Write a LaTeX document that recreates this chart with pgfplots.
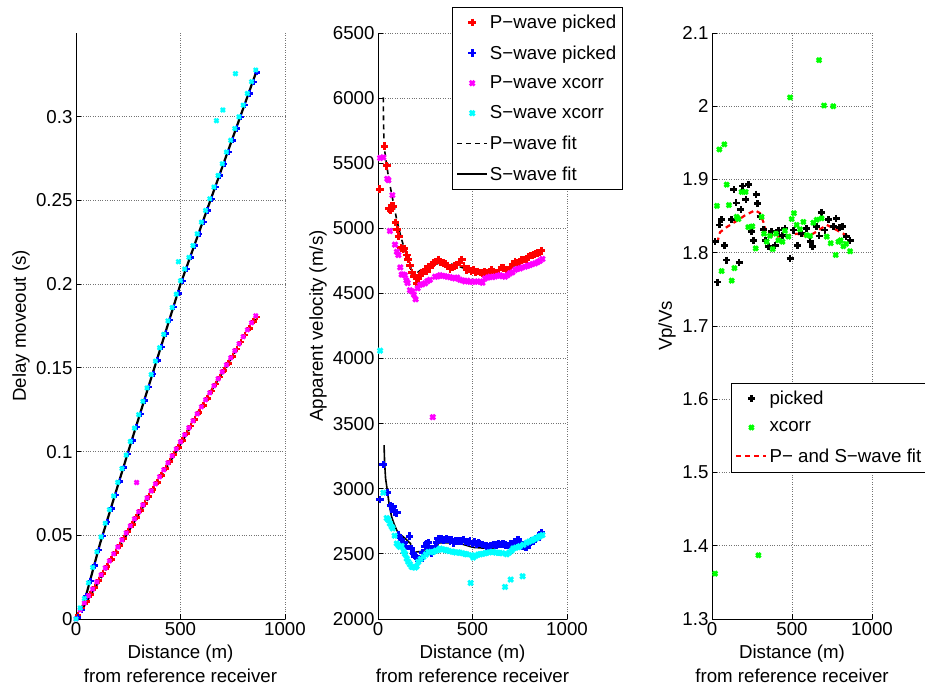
\documentclass[border=0pt]{standalone}
\usepackage{pgfplots}
\pgfplotsset{compat=1.18}
\usepackage{fontspec}
\setmainfont{Liberation Sans}
\definecolor{mred}{rgb}{1,0,0}
\definecolor{mblue}{rgb}{0,0,1}
\definecolor{mmag}{rgb}{1,0,1}
\definecolor{mcyan}{rgb}{0,1,1}
\definecolor{mgreen}{rgb}{0,1,0}
\newcommand{\fs}{\fontsize{18.7}{24}\selectfont}
\pgfplotsset{
  panel/.style={
    scale only axis, height=586pt,
    xmin=0, xmax=1000, xtick={0,500,1000},
    axis x line*=bottom, axis y line*=left,
    axis line style={-, black, line width=0.8pt},
    grid=major, major grid style={dotted, black!55, line width=0.8pt},
    tick align=inside, major tick length=5pt, tick style={black, line width=0.8pt},
    tick label style={font=\fs},
    label style={font=\fs},
    xlabel={Distance (m)\\from reference receiver},
    xlabel style={align=center, at={(axis description cs:0.5,0)}, anchor=north, yshift=-26pt, inner sep=0pt},
    ylabel style={anchor=center, inner sep=0pt},
    /pgf/number format/assume math mode=true,
    /pgf/number format/set thousands separator={},
    scaled ticks=false,
    clip=false,
    legend cell align=left,
    legend image code/.code={\draw[mark repeat=2,mark phase=2,##1] plot coordinates {(0pt,0pt)(15pt,0pt)(30pt,0pt)};},
    legend style={font=\fs, draw=black, line width=0.6pt, fill=white, anchor=north west, row sep=11.5pt, inner xsep=4pt, inner ysep=6pt},
  },
  pk/.style={only marks, mark=+, mark size=3.8pt, mark options={solid, line width=2.8pt}},
  xc/.style={only marks, mark=x, mark size=3.3pt, mark options={solid, line width=2.8pt}},
  pks/.style={only marks, mark=+, mark size=3.1pt, mark options={solid, line width=2.4pt}},
  xcs/.style={only marks, mark=x, mark size=2.8pt, mark options={solid, line width=2.4pt}},
}
\begin{document}
\begin{tikzpicture}
\path[use as bounding box] (0,0) rectangle (925pt,688pt);
% ---------------- Left panel ----------------
\begin{axis}[panel, at={(76pt,69pt)}, anchor=south west, width=209pt,
  ymin=0, ymax=0.35, ytick={0,0.05,0.1,0.15,0.2,0.25,0.3},
  yticklabel style={/pgf/number format/fixed, /pgf/number format/precision=2},
  ylabel={Delay moveout (s)}, ylabel style={at={(axis description cs:-0.263,0.5)}}]
\addplot[pks, mred] coordinates {(10,0.0021)(30,0.0063)(50,0.0105)(70,0.0146)(90,0.0188)(110,0.0230)(130,0.0272)(150,0.0314)(170,0.0356)(190,0.0397)(210,0.0439)(230,0.0481)(250,0.0523)(270,0.0565)(290,0.0607)(310,0.0649)(330,0.0690)(350,0.0732)(370,0.0774)(390,0.0816)(410,0.0858)(430,0.0900)(450,0.0941)(470,0.0983)(490,0.1025)(510,0.1067)(530,0.1109)(550,0.1151)(570,0.1192)(590,0.1234)(610,0.1276)(630,0.1318)(650,0.1360)(670,0.1402)(690,0.1444)(710,0.1485)(730,0.1527)(750,0.1569)(770,0.1611)(790,0.1653)(810,0.1695)(830,0.1736)(850,0.1778)(866,0.1805)};
\addplot[pks, mblue] coordinates {(10,0.0010)(30,0.0054)(50,0.0134)(70,0.0227)(90,0.0319)(110,0.0412)(130,0.0496)(150,0.0578)(170,0.0659)(190,0.0741)(210,0.0822)(230,0.0904)(250,0.0985)(270,0.1065)(290,0.1145)(310,0.1225)(330,0.1305)(350,0.1385)(370,0.1465)(390,0.1545)(410,0.1625)(430,0.1705)(450,0.1785)(470,0.1865)(490,0.1945)(510,0.2020)(530,0.2090)(550,0.2160)(570,0.2230)(590,0.2300)(610,0.2370)(630,0.2440)(650,0.2510)(670,0.2579)(690,0.2649)(710,0.2719)(730,0.2789)(750,0.2859)(770,0.2929)(790,0.2999)(810,0.3069)(830,0.3139)(850,0.3209)(866,0.3265)};
\addplot[xcs, mmag] coordinates {(0,0.0)(20,0.0054)(40,0.0096)(60,0.0138)(80,0.0179)(100,0.0221)(120,0.0263)(140,0.0305)(160,0.0347)(180,0.0389)(200,0.0430)(220,0.0472)(240,0.0514)(260,0.0556)(280,0.0598)(290,0.0815)(300,0.0640)(320,0.0681)(340,0.0723)(360,0.0765)(380,0.0807)(400,0.0849)(420,0.0891)(440,0.0933)(460,0.0974)(480,0.1016)(500,0.1058)(520,0.1100)(540,0.1142)(560,0.1184)(580,0.1225)(600,0.1267)(620,0.1309)(640,0.1351)(660,0.1393)(680,0.1435)(700,0.1476)(720,0.1518)(740,0.1560)(760,0.1602)(780,0.1644)(800,0.1686)(820,0.1727)(840,0.1769)(860,0.1811)};
\addplot[xcs, mcyan] coordinates {(0,0.0)(20,0.0066)(40,0.0123)(60,0.0216)(80,0.0308)(100,0.0401)(120,0.0490)(140,0.0572)(160,0.0653)(180,0.0735)(200,0.0816)(220,0.0898)(240,0.0979)(260,0.106)(280,0.114)(300,0.122)(320,0.130)(340,0.138)(360,0.146)(380,0.154)(400,0.162)(420,0.170)(440,0.178)(460,0.186)(480,0.194)(490,0.2134)(500,0.202)(520,0.209)(540,0.216)(560,0.223)(580,0.230)(600,0.237)(620,0.244)(640,0.251)(660,0.258)(672,0.2976)(680,0.2649)(700,0.2719)(703,0.304)(720,0.2789)(740,0.2859)(760,0.2929)(763,0.3257)(780,0.2999)(800,0.3069)(820,0.3139)(840,0.3209)(860,0.3279)};
\addplot[black, line width=2.2pt, dash pattern=on 5pt off 4pt] coordinates {(30,0.0060)(540,0.1130)(555,0.1175)(866,0.1812)};
\addplot[black, line width=2.2pt] coordinates {(35,0.008)(115,0.045)(250,0.1)(500,0.2)(866,0.328)};
\end{axis}
% ---------------- Middle panel ----------------
\begin{axis}[panel, at={(378pt,69pt)}, anchor=south west, width=189pt,
  ymin=2000, ymax=6500, ytick={2000,2500,3000,3500,4000,4500,5000,5500,6000,6500},
  ylabel={Apparent velocity (m/s)}, ylabel style={at={(axis description cs:-0.317,0.5)}},
  legend style={at={(0.392,1.045)}}]
\addplot[pk, mred] coordinates {(10,5300)(34,5630)(46,5480)(58,5150)(66,5140)(72,5175)(80,5170)(93,5045)(102,4990)(110,4940)(122,4850)(132,4840)(139,4845)(152,4795)(160,4760)(169,4715)(180,4660)(192,4630)(205,4578)(213,4615)(222,4640)(230,4655)(240,4668)(250,4680)(258,4670)(266,4705)(275,4700)(285,4720)(293,4735)(305,4745)(319,4762)(330,4740)(346,4732)(358,4725)(370,4715)(381,4690)(393,4700)(405,4710)(416,4720)(430,4740)(443,4762)(455,4710)(469,4680)(480,4690)(492,4670)(504,4680)(516,4665)(528,4670)(540,4660)(552,4655)(563,4665)(575,4660)(588,4670)(601,4680)(614,4670)(627,4660)(640,4680)(654,4700)(665,4695)(677,4685)(690,4680)(702,4700)(713,4720)(725,4745)(737,4735)(748,4740)(760,4755)(772,4760)(784,4765)(795,4780)(808,4790)(820,4795)(831,4805)(843,4810)(855,4815)(866,4828)};
\addplot[pk, mblue] coordinates {(11,2918)(28,3187)(49,2972)(66,2870)(78,2862)(86,2823)(99,2815)(108,2644)(125,2610)(137,2590)(148,2559)(166,2636)(176,2540)(187,2503)(196,2480)(205,2469)(214,2465)(222,2451)(236,2508)(249,2559)(257,2580)(266,2585)(275,2540)(284,2503)(293,2530)(302,2554)(310,2590)(319,2618)(328,2612)(337,2615)(346,2605)(355,2612)(363,2615)(372,2610)(381,2600)(390,2610)(399,2585)(410,2598)(425,2597)(435,2600)(443,2600)(451,2610)(465,2595)(478,2590)(487,2597)(500,2580)(510,2592)(520,2578)(531,2585)(540,2580)(553,2572)(566,2564)(575,2560)(584,2554)(597,2565)(610,2572)(620,2570)(628,2567)(638,2575)(646,2572)(656,2575)(663,2574)(675,2568)(690,2564)(698,2580)(710,2575)(720,2590)(735,2605)(743,2610)(755,2590)(766,2560)(778,2554)(787,2549)(797,2575)(805,2592)(813,2597)(822,2600)(835,2615)(848,2636)(857,2630)(866,2662)};
\addplot[xc, mmag] coordinates {(11,5540)(28,5545)(49,5380)(55,5370)(63,4980)(76,5255)(90,4875)(100,4820)(108,4795)(118,4700)(125,4645)(134,4645)(143,4640)(150,4600)(157,4580)(169,4525)(182,4515)(190,4490)(199,4455)(210,4540)(222,4565)(235,4570)(249,4578)(262,4595)(275,4605)(290,3550)(302,4628)(315,4630)(328,4640)(341,4635)(354,4633)(367,4628)(381,4625)(394,4620)(407,4615)(420,4622)(434,4605)(447,4600)(460,4592)(473,4598)(487,4590)(500,4588)(513,4592)(527,4590)(540,4592)(553,4582)(566,4615)(580,4622)(593,4628)(606,4625)(619,4630)(632,4635)(645,4640)(658,4632)(672,4628)(685,4640)(698,4654)(711,4662)(725,4680)(738,4688)(751,4692)(764,4700)(778,4705)(791,4712)(804,4718)(817,4725)(831,4731)(844,4740)(857,4751)(870,4765)};
\addplot[xc, mcyan] coordinates {(11,4060)(28,2970)(46,2775)(55,2760)(63,2733)(72,2710)(78,2695)(88,2640)(99,2580)(108,2565)(116,2554)(125,2560)(135,2520)(143,2500)(152,2464)(160,2440)(169,2420)(178,2400)(187,2398)(196,2395)(205,2405)(213,2439)(226,2460)(240,2477)(253,2495)(266,2515)(280,2512)(293,2515)(306,2525)(319,2530)(328,2541)(341,2535)(354,2530)(363,2528)(376,2522)(390,2518)(399,2515)(412,2510)(425,2512)(434,2508)(447,2505)(460,2500)(469,2497)(490,2277)(496,2490)(504,2472)(517,2485)(530,2495)(540,2497)(553,2500)(566,2505)(575,2508)(588,2512)(601,2515)(610,2515)(623,2510)(636,2508)(645,2508)(658,2505)(672,2246)(681,2497)(694,2510)(702,2303)(707,2525)(716,2541)(729,2548)(742,2552)(751,2559)(765,2328)(769,2570)(787,2585)(800,2595)(813,2602)(822,2610)(835,2618)(848,2628)(857,2636)(870,2645)};
\addplot[black, line width=1.6pt, dash pattern=on 5pt off 4pt] coordinates {(28,6005)(29,5850)(31,5700)(35,5600)(42,5525)(55,5398)(70,5280)(85,5170)(100,5060)(116,4964)(130,4890)(143,4824)(155,4781)(166,4760)(172,4720)(178,4633)(200,4650)(240,4696)(291,4722)(346,4735)(399,4722)(451,4696)(504,4671)(566,4653)(619,4663)(681,4696)(743,4722)(804,4773)(857,4811)};
\addplot[black, line width=1.6pt] coordinates {(32,3336)(35,3200)(40,3080)(49,2990)(60,2870)(72,2785)(85,2730)(99,2682)(115,2650)(134,2631)(150,2610)(166,2587)(172,2580)(178,2503)(205,2515)(250,2522)(293,2528)(310,2530)(319,2585)(381,2585)(434,2580)(504,2550)(593,2541)(645,2554)(734,2549)(804,2580)(866,2626)};
\legend{P−wave picked, S−wave picked, P−wave xcorr, S−wave xcorr, P−wave fit, S−wave fit}
\end{axis}
% ---------------- Right panel ----------------
\begin{axis}[panel, at={(712pt,69pt)}, anchor=south west, width=160pt,
  ymin=1.3, ymax=2.1, ytick={1.3,1.4,1.5,1.6,1.7,1.8,1.9,2,2.1},
  yticklabel style={/pgf/number format/fixed, /pgf/number format/precision=1},
  ylabel={Vp/Vs}, ylabel style={at={(axis description cs:-0.281,0.5)}},
  legend style={at={(0.119,0.403)}}]
\addplot[pk, black, mark size=3.5pt] coordinates {(19,1.815)(33,1.760)(46,1.838)(60,1.845)(77,1.810)(92,1.790)(123,1.845)(137,1.886)(150,1.868)(169,1.787)(181,1.859)(192,1.891)(212,1.873)(227,1.893)(248,1.829)(258,1.817)(275,1.880)(285,1.867)(300,1.849)(321,1.832)(335,1.817)(352,1.808)(373,1.829)(394,1.810)(415,1.831)(440,1.824)(456,1.833)(488,1.792)(508,1.831)(533,1.810)(560,1.826)(592,1.833)(613,1.815)(629,1.809)(654,1.836)(669,1.823)(683,1.855)(706,1.831)(727,1.845)(758,1.836)(775,1.847)(796,1.835)(817,1.836)(838,1.822)(863,1.817)};
\addplot[xc, mgreen, mark size=3.1pt] coordinates {(19,1.362)(31,1.864)(46,1.941)(60,1.775)(77,1.948)(92,1.893)(106,1.865)(123,1.762)(140,1.779)(154,1.849)(165,1.846)(185,1.883)(210,1.883)(227,1.835)(252,1.836)(273,1.806)(290,1.387)(310,1.849)(325,1.826)(342,1.815)(362,1.823)(379,1.805)(400,1.826)(415,1.817)(440,1.815)(456,1.830)(477,1.822)(488,2.012)(498,1.846)(512,1.854)(529,1.838)(550,1.832)(571,1.842)(592,1.824)(613,1.823)(633,1.841)(654,1.845)(669,2.063)(685,1.847)(700,2.001)(717,1.822)(742,1.813)(758,2.000)(773,1.797)(790,1.815)(804,1.817)(821,1.809)(838,1.812)(863,1.802)};
\addplot[mred, line width=2.2pt, dash pattern=on 5pt off 4pt] coordinates {(33,1.814)(50,1.828)(92,1.835)(165,1.845)(206,1.851)(269,1.858)(300,1.854)(321,1.842)(342,1.826)(404,1.822)(467,1.823)(529,1.826)(602,1.822)(654,1.829)(717,1.838)(779,1.831)(863,1.821)};
\legend{picked, xcorr, P− and S−wave fit}
\end{axis}
\end{tikzpicture}
\end{document}
